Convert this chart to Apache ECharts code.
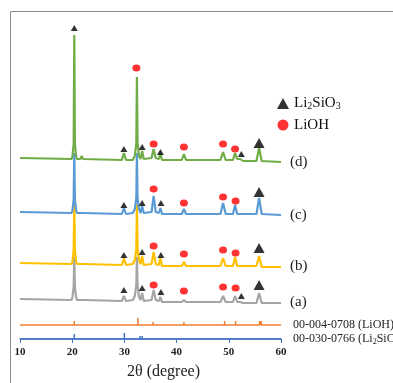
<!DOCTYPE html>
<html>
<head>
<meta charset="utf-8">
<script src="https://cdn.jsdelivr.net/npm/echarts@6/dist/echarts.min.js"></script>
<style>
    html, body { margin: 0; padding: 0; background: #fff; }
    #xrdChart { width: 393px; height: 383px; }
</style>
</head>
<body>
<div id="xrdChart"></div>
<script>
// 2theta (degree) vs intensity (a.u., stacked with offsets)
var sampleNames = ['(a)', '(b)', '(c)', '(d)'];

var curveA = [[10,40],[19.9,39],[20.05,42],[20.28,52],[20.4,82],[20.52,52],[20.75,42],[20.9,39],[21.6,39],[21.8,40],[22.1,39],
    [29.5,38],[29.9,43],[30.3,38],[31.6,39],[32.0,43],[32.28,54],[32.4,82],[32.52,54],[32.8,42],[33.1,39],[33.4,46],[33.7,38],
    [35.2,39],[35.6,49],[36.0,39],[36.6,38],[36.9,42],[37.2,37],[41.0,37],[41.4,39],[41.8,37],[48.4,37],[48.9,43],[49.4,37],
    [50.8,37],[51.2,43],[51.6,37],[52.2,37],[52.4,39],[52.7,36],[55.3,36],[55.8,46],[56.3,36],[60,36]];

var curveB = [[10,76],[19.9,75],[20.05,78],[20.28,88],[20.4,135],[20.52,88],[20.75,78],[20.9,75],[21.5,75],[21.8,77],[22.1,75],
    [29.5,74],[29.9,81],[30.3,74],[31.6,75],[32.0,79],[32.28,90],[32.4,135],[32.52,90],[32.8,79],[33.1,75],[33.4,83],[33.7,74],
    [35.2,75],[35.6,87],[36.0,75],[36.6,74],[36.9,81],[37.2,73],[41.0,73],[41.4,77],[41.8,73],[48.4,73],[48.9,81],[49.4,73],
    [50.8,73],[51.2,82],[51.6,73],[55.3,73],[55.8,83],[56.3,72],[60,72]];

var curveC = [[10,127],[19.9,126],[20.05,129],[20.28,139],[20.4,186],[20.52,139],[20.75,129],[20.9,126],[21.6,126],[21.8,128],[22.1,126],
    [29.5,125],[29.9,131],[30.3,125],[31.6,126],[32.0,130],[32.28,141],[32.4,186],[32.52,141],[32.8,130],[33.1,126],[33.4,133],[33.7,126],
    [35.2,127],[35.6,143],[36.0,127],[36.6,126],[36.9,131],[37.2,125],[41.0,125],[41.4,130],[41.8,125],[48.4,125],[48.9,136],[49.4,125],
    [50.8,125],[51.2,134],[51.6,125],[55.3,125],[55.8,141],[56.3,125],[60,124]];

var curveD = [[10,181],[19.9,180],[20.05,183],[20.28,195],[20.4,304],[20.52,195],[20.75,183],[20.9,180],[21.6,180],[21.8,183],[22.1,180],
    [29.5,179],[29.9,186],[30.3,179],[31.6,179],[32.0,183],[32.28,196],[32.4,262],[32.52,196],[32.8,183],[33.1,180],[33.4,188],[33.7,180],
    [35.2,181],[35.6,190],[36.0,181],[36.6,180],[36.9,185],[37.2,179],[41.0,179],[41.4,185],[41.8,179],[48.4,179],[48.9,187],[49.4,179],
    [50.8,179],[51.2,186],[51.6,180],[52.2,180],[52.4,182],[52.7,178],[55.3,178],[55.8,191],[56.3,178],[60,177]];

// phase markers
var li2sio3Small = [[20.4,311],[29.9,190],[33.4,192],[36.9,187],[52.4,185],
    [29.9,134],[33.4,136],[37.0,136],
    [29.9,84],[33.4,87],[37.0,84],
    [29.9,49],[33.4,51],[37.0,47],[52.4,43]];
var li2sio3Big = [[55.8,196],[55.8,147],[55.8,91],[55.8,54]];
var liohMarks = [[32.3,271],[35.6,195],[41.4,192],[48.9,195],[51.2,190],
    [35.6,150],[41.4,136],[48.9,142],[51.3,138],
    [35.6,93],[41.4,85],[48.9,89],[51.3,86],
    [35.6,54],[41.4,48],[48.9,52],[51.3,51]];

// reference patterns (stick positions and heights)
var liohRefBase = 14;
var liohRefPos = [20.4, 32.6, 35.5, 41.4, 49.2, 51.3, 55.9, 56.2];
var liohRefHt = [4, 7, 3, 3, 4, 4, 4, 4];
var li2sio3RefBase = 0;
var li2sio3RefPos = [20.4, 30.0, 33.0, 33.4, 36.9, 51.5, 55.3];
var li2sio3RefHt = [5, 6, 3, 3, 2, 2, 2];

var xTicks = [10, 20, 30, 40, 50, 60];

function stickLine(base, pos, hts) {
    var d = [[xTicks[0], base]];
    for (var i = 0; i < pos.length; i++) {
        d.push([pos[i], base], [pos[i], base + hts[i]], [pos[i], base]);
    }
    d.push([xTicks[xTicks.length - 1], base]);
    return d;
}

var serif = '"Liberation Serif", "DejaVu Serif", serif';

function curve(name, data, color) {
    return {
        name: name, type: 'line', data: data, showSymbol: false, silent: true,
        lineStyle: {color: color, width: 2.2}, z: 2
    };
}

var xrdChart = echarts.init(document.getElementById('xrdChart'));

var option = {
    animation: false,
    grid: {left: 20, right: 112, top: 19, bottom: 44},
    xAxis: {
        type: 'value', min: 10, max: 60, interval: 10,
        axisLine: {lineStyle: {color: '#4472c4', width: 1.5}},
        axisTick: {show: true, length: 4, lineStyle: {color: '#4472c4'}},
        splitLine: {show: false},
        axisLabel: {fontFamily: serif, fontSize: 11, fontWeight: 'bold', color: '#222', margin: 8}
    },
    yAxis: {type: 'value', min: 0, max: 320, show: false},
    legend: {
        orient: 'vertical', left: 272, top: 91, itemWidth: 12, itemHeight: 11, itemGap: 6,
        data: ['Li2SiO3', 'LiOH'],
        formatter: function (name) {
            return name === 'Li2SiO3' ? 'Li{sub|2}SiO{sub|3}' : name;
        },
        textStyle: {
            fontFamily: serif, fontSize: 15, color: '#111',
            rich: {sub: {fontFamily: serif, fontSize: 10, verticalAlign: 'bottom', padding: [6, 0, 0, 0]}}
        }
    },
    graphic: [
        {type: 'polyline', shape: {points: [[10.5, 383], [10.5, 11.5], [393, 11.5]]}, style: {stroke: '#8c8c8c', lineWidth: 1, fill: null}},
        {type: 'text', left: 290, top: 155, style: {text: sampleNames[3], font: '15px ' + serif, fill: '#222'}},
        {type: 'text', left: 290, top: 208, style: {text: sampleNames[2], font: '15px ' + serif, fill: '#222'}},
        {type: 'text', left: 290, top: 259, style: {text: sampleNames[1], font: '15px ' + serif, fill: '#222'}},
        {type: 'text', left: 290, top: 295, style: {text: sampleNames[0], font: '15px ' + serif, fill: '#222'}},
        {type: 'text', left: 293, top: 319, style: {text: '00-004-0708 (LiOH)', font: '12px ' + serif, fill: '#222'}},
        {type: 'text', left: 293, top: 333, style: {
            text: '00-030-0766 (Li{sub|2}SiO{sub|3})', font: '12px ' + serif, fill: '#222',
            rich: {sub: {font: '8px ' + serif, fill: '#222', verticalAlign: 'bottom', padding: [5, 0, 0, 0]}}
        }},
        {type: 'text', left: 127, top: 364, style: {text: '2θ (degree)', font: '16px ' + serif, fill: '#222'}}
    ],
    series: [
        curve('(a)', curveA, '#a5a5a5'),
        curve('(b)', curveB, '#ffc000'),
        curve('(c)', curveC, '#5b9bd5'),
        curve('(d)', curveD, '#70ad47'),
        {name: 'LiOH ref', type: 'line', data: stickLine(liohRefBase, liohRefPos, liohRefHt), showSymbol: false,
            lineStyle: {color: '#ed7d31', width: 1.5}},
        {name: 'Li2SiO3 ref', type: 'line', data: stickLine(li2sio3RefBase, li2sio3RefPos, li2sio3RefHt), showSymbol: false,
            lineStyle: {color: '#4472c4', width: 1.5}},
        {name: 'Li2SiO3', type: 'scatter', symbol: 'triangle', symbolSize: [7, 6], data: li2sio3Small,
            itemStyle: {color: '#000'}, z: 5},
        {name: 'Li2SiO3', type: 'scatter', symbol: 'triangle', symbolSize: [11, 10], data: li2sio3Big,
            itemStyle: {color: '#000'}, z: 5},
        {name: 'LiOH', type: 'scatter', symbol: 'circle', symbolSize: [8, 7], data: liohMarks,
            itemStyle: {color: '#ff0000'}, z: 5}
    ]
};

xrdChart.setOption(option);
window.addEventListener('resize', function () {
    xrdChart.resize();
});
</script>
</body>
</html>
